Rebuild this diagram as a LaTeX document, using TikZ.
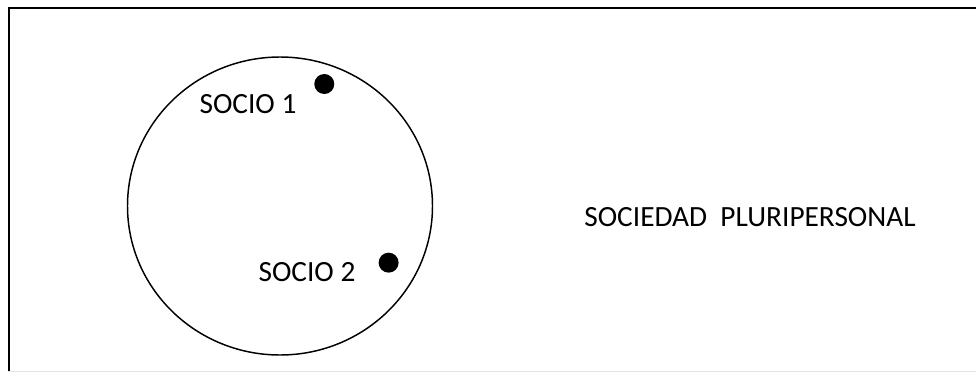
\documentclass[tikz,border=0pt]{standalone}
\usepackage{fontspec}
\setmainfont{Carlito}
\usetikzlibrary{shapes,positioning}

\begin{document}
\begin{tikzpicture}[x=0.75pt, y=-0.75pt,
  node distance=4pt,
  socio/.style={inner sep=0pt, font=\fontsize{22}{26}\selectfont},
  dot/.style={circle, fill=black, minimum size=15pt, inner sep=0pt},
  frame/.style={line width=1.5pt}]
\useasboundingbox (0,0) rectangle (976,372);
\draw[frame] (8.5,372) -- (8.5,8) -- (976,8);
\draw[black!10, line width=0.75pt] (8,371.5) -- (976,371.5);
\node[ellipse, draw, line width=1.1pt, minimum width=305*0.75pt, minimum height=298*0.75pt] (soc) at (280,206) {};
\node[socio] (s1) at (248,104) {SOCIO 1};
\node[dot, right=13pt of s1.east, yshift=15pt, anchor=west] (d1) {};
\node[socio] (s2) at (307,272) {SOCIO 2};
\node[dot, right=17pt of s2.east, yshift=7pt, anchor=west] (d2) {};
\node[socio] (sp) at (750,217) {SOCIEDAD\ \ PLURIPERSONAL};
\end{tikzpicture}
\end{document}
